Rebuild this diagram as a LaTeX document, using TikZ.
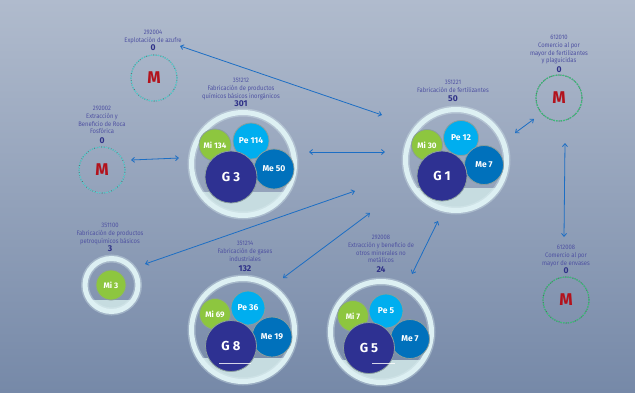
\documentclass[tikz,border=0pt]{standalone}
\usepackage{fontspec}
\setmainfont{Fira Sans}
\newfontfamily\condfont[FakeStretch=0.9]{Fira Sans}
\usetikzlibrary{arrows.meta}
\definecolor{bgtop}{HTML}{B0BBCD}
\definecolor{bgbot}{HTML}{7689A8}
\definecolor{lblc}{HTML}{4F52A2}
\definecolor{numc}{HTML}{2E3087}
\definecolor{mic}{HTML}{8DC63F}
\definecolor{pec}{HTML}{00AEEF}
\definecolor{mec}{HTML}{0071BC}
\definecolor{gc}{HTML}{2E3192}
\definecolor{ringc}{HTML}{DDF0F3}
\definecolor{segc}{HTML}{C6DCE0}
\definecolor{rimc}{HTML}{8A9E9E}
\definecolor{arrc}{HTML}{1C6EC4}
\definecolor{mred}{HTML}{B3121C}
\definecolor{tealc}{HTML}{5CC9CC}
\definecolor{greenc}{HTML}{3DBA7A}
\tikzset{
  lbl/.style={align=center, inner sep=0pt, anchor=north, text=lblc, font=\condfont\fontsize{6.5}{7.7}\selectfont},
  num/.style={inner sep=0pt, text=numc, font=\bfseries\fontsize{8.5}{9}\selectfont},
  bub/.style={circle, draw=rimc, line width=0.8pt, inner sep=0pt, text=white, font=\bfseries\fontsize{8}{8}\selectfont},
  mibub/.style={bub, fill=mic},
  pebub/.style={bub, fill=pec, font=\bfseries\fontsize{8.5}{8.5}\selectfont},
  mebub/.style={bub, fill=mec, font=\bfseries\fontsize{8.5}{8.5}\selectfont},
  gbub/.style={bub, fill=gc, font=\bfseries\fontsize{13}{13}\selectfont},
  ringnode/.style={circle, draw=ringc, line width=5pt, inner sep=0pt},
  mnode/.style={circle, inner sep=0pt, text=mred, font=\bfseries\fontsize{17}{17}\selectfont},
  link/.style={draw=arrc, line width=0.8pt, {Straight Barb[length=3pt,width=5pt]}-{Straight Barb[length=3pt,width=5pt]}},
}
\newcommand\ringbase[3]{% name, center, radius
  \begin{scope}[shift={(#2)}]
    \clip (0,0) circle[radius=#3pt-3pt];
    \fill[segc] (-#3,0.52*#3) rectangle (#3,#3);
  \end{scope}
  \draw[ringc, line width=8pt, opacity=0.35] (#2) circle[radius=#3pt-2.5pt];
  \node[ringnode, minimum size=2*#3pt-5pt] (#1) at (#2) {};
}
\newcommand\mcircle[4]{% name, center, colour, text
  \draw[gray!45!black, opacity=0.6, line width=1.1pt, dash pattern=on 0.8pt off 1.6pt] (#2) circle[radius=23pt];
  \draw[#3, line width=1.1pt, dash pattern=on 2.2pt off 1.2pt] (#2) circle[radius=23pt];
  \node[mnode, minimum size=46pt] (#1) at (#2) {#4};
}
\begin{document}
\begin{tikzpicture}[x=1pt,y=-1pt]
\useasboundingbox (0,0) rectangle (635,392);
\shade[top color=bgtop, bottom color=bgbot] (0,0) rectangle (635,392);

% ---- rings
\ringbase{g3ring}{243,164}{54}
\ringbase{g1ring}{456,160}{53}
\ringbase{g8ring}{243,330}{54}
\ringbase{g5ring}{381,332}{53}
\ringbase{mi3ring}{111.5,285}{29}

% ---- bubbles G3
\node[mibub, minimum size=32pt] (g3mi) at (215,145) {Mi 134};
\node[pebub, minimum size=36pt] (g3pe) at (251,141) {Pe 114};
\node[mebub, minimum size=40pt] (g3me) at (274,169) {Me 50};
\node[gbub, minimum size=52pt] (g3g) at (231,177) {G 3};
% ---- bubbles G1
\node[mibub, minimum size=31pt] (g1mi) at (427,145) {Mi 30};
\node[pebub, minimum size=35pt] (g1pe) at (461,138) {Pe 12};
\node[mebub, minimum size=39pt] (g1me) at (484,165) {Me 7};
\node[gbub, minimum size=50pt] (g1g) at (442,176) {G 1};
% ---- bubbles G8
\node[mibub, minimum size=31pt] (g8mi) at (215,314) {Mi 69};
\node[pebub, minimum size=34pt] (g8pe) at (248,308) {Pe 36};
\node[mebub, minimum size=40pt] (g8me) at (272,337) {Me 19};
\node[gbub, minimum size=51pt] (g8g) at (231,346) {G 8};
\draw[white, opacity=0.8, line width=0.6pt] (219,363) -- (251,363);
% ---- bubbles G5
\node[mibub, minimum size=31pt] (g5mi) at (353,316) {Mi 7};
\node[pebub, minimum size=34pt] (g5pe) at (386,311) {Pe 5};
\node[mebub, minimum size=39pt] (g5me) at (410,339) {Me 7};
\node[gbub, minimum size=51pt] (g5g) at (369,348) {G 5};
\draw[white, opacity=0.8, line width=0.6pt] (372,363) -- (395,363);
% ---- Mi3
\node[mibub, minimum size=30pt] (mi3) at (111,285) {Mi 3};

% ---- M circles
\mcircle{m1}{154,78}{tealc}{M}
\mcircle{m2}{102,170}{tealc}{M}
\mcircle{m3}{559,98}{greenc}{M}
\mcircle{m4}{566,300}{greenc}{M}

% ---- labels
\node[lbl] (m1lbl) at (153,30) {292004\\Explotación de azufre};
\node[num] (m1num) at (153,48) {0};
\node[lbl] (m2lbl) at (102,106) {292002\\Extracción y\\Beneficio de Roca\\Fosfórica};
\node[num] (m2num) at (102,141) {0};
\node[lbl] (g3lbl) at (241,78) {351212\\Fabricación de productos\\químicos básicos inorgánicos};
\node[num] (g3num) at (241,104) {301};
\node[lbl] (g1lbl) at (453,80) {351221\\Fabricación de fertilizantes};
\node[num] (g1num) at (453,99) {50};
\node[lbl] (mi3lbl) at (110,223) {351100\\Fabricación de productos\\petroquímicos básicos};
\node[num] (mi3num) at (110,249) {3};
\node[lbl] (g8lbl) at (245,241) {351214\\Fabricación de gases\\industriales};
\node[num] (g8num) at (245,269) {132};
\node[lbl] (g5lbl) at (381,235) {292008\\Extracción y beneficio de\\otros minerales no\\metálicos};
\node[num] (g5num) at (381,270) {24};
\node[lbl] (m3lbl) at (559,35) {612010\\Comercio al por\\mayor de fertilizantes\\y plaguicidas};
\node[num] (m3num) at (559,70) {0};
\node[lbl] (m4lbl) at (566,245) {612008\\Comercio al por\\mayor de envases};
\node[num] (m4num) at (566,271) {0};

% ---- arrow end points
\coordinate (a1s) at (180,46);  \coordinate (a1e) at (382,115);
\coordinate (a2s) at (131,160); \coordinate (a2e) at (179,158);
\coordinate (a3s) at (309,152); \coordinate (a3e) at (385,152);
\coordinate (a4s) at (145,264); \coordinate (a4e) at (355,191);
\coordinate (a5s) at (283,278); \coordinate (a5e) at (370,213);
\coordinate (a6s) at (412,274); \coordinate (a6e) at (438,221);
\coordinate (a7s) at (515,133); \coordinate (a7e) at (534,119);
\coordinate (a8s) at (565,143); \coordinate (a8e) at (564,237);
\foreach \i in {1,...,8} {\draw[link] (a\i s) -- (a\i e);}
\end{tikzpicture}
\end{document}
